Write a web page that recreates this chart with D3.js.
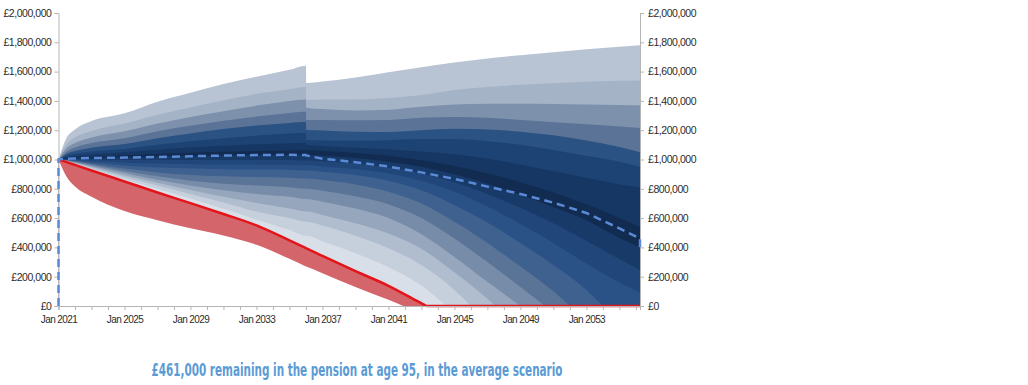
<!DOCTYPE html>
<html>
<head>
<meta charset="utf-8">
<script src="https://cdn.jsdelivr.net/npm/d3@7"></script>
<style>
  body { margin: 0; background: #fff; }
  svg { display: block; }
  text { font-family: "Liberation Sans", Arial, sans-serif; }
</style>
</head>
<body>
<div class="wrapper"></div>
<script>
const width = 1028;
const height = 385;

// time grid (years), values in £ thousands
const years = [2021, 2021.5, 2022, 2023, 2025, 2027, 2029, 2031, 2033, 2035, 2036, 2036.02, 2037, 2039, 2041, 2043, 2045, 2047, 2049, 2051, 2053, 2055, 2056.25];

const redLine  = [1000, 982, 963, 925, 850, 775, 702, 628, 550, 448, 395, 394, 342, 238, 138, 18, 0, 0, 0, 0, 0, 0, 0];
const redFloor = [1000, 880, 815, 745, 648, 585, 530, 482, 418, 322, 270, 269, 224, 130, 42, 0, 0, 0, 0, 0, 0, 0, 0];

// fan edges, lowest (b1) to highest (b18)
const b1  = [1000, 985, 968, 934, 865, 800, 733, 663, 590, 518, 480, 480, 442, 360, 265, 140, 0, 0, 0, 0, 0, 0, 0];
const b2  = [1000, 987, 972, 942, 880, 822, 765, 707, 645, 600, 575, 575, 550, 480, 395, 280, 110, 0, 0, 0, 0, 0, 0];
const b3  = [1000, 989, 976, 949, 893, 842, 792, 745, 703, 665, 645, 645, 622, 565, 495, 390, 230, 50, 0, 0, 0, 0, 0];
const b4  = [1000, 991, 980, 956, 907, 862, 822, 790, 765, 745, 730, 730, 712, 665, 600, 490, 335, 165, 0, 0, 0, 0, 0];
const b5  = [1000, 993, 984, 963, 922, 885, 855, 835, 822, 810, 800, 800, 787, 750, 695, 600, 460, 300, 130, 0, 0, 0, 0];
const b6  = [1000, 995, 988, 970, 938, 912, 895, 885, 880, 876, 870, 870, 860, 830, 780, 700, 575, 430, 270, 100, 0, 0, 0];
const b7  = [1000, 997, 992, 978, 958, 945, 938, 934, 932, 930, 925, 925, 917, 895, 855, 790, 690, 570, 430, 280, 110, 0, 0];
const b8  = [1000, 999, 996, 988, 978, 972, 968, 966, 965, 963, 960, 960, 953, 935, 905, 855, 780, 680, 560, 430, 290, 160, 90];
const b9  = [1000, 1001, 1001, 1000, 998, 997, 997, 997, 997, 996, 994, 994, 988, 972, 945, 905, 845, 765, 670, 565, 445, 320, 245];
const b10 = [1000, 1004, 1006, 1010, 1015, 1020, 1025, 1028, 1030, 1031, 1030, 1030, 1025, 1010, 985, 950, 900, 835, 760, 675, 585, 465, 400];
const b11 = [1000, 1007, 1011, 1018, 1028, 1038, 1046, 1053, 1058, 1062, 1063, 1063, 1058, 1045, 1025, 995, 955, 905, 845, 775, 695, 600, 540];
const b12 = [1000, 1015, 1024, 1036, 1050, 1067, 1082, 1094, 1104, 1111, 1113, 1100, 1092, 1080, 1068, 1055, 1035, 1005, 965, 920, 875, 830, 810];
const b13 = [1000, 1027, 1040, 1055, 1072, 1100, 1125, 1145, 1163, 1177, 1183, 1133, 1130, 1128, 1132, 1140, 1140, 1125, 1100, 1065, 1025, 985, 950];
const b14 = [1000, 1040, 1058, 1080, 1105, 1145, 1178, 1208, 1232, 1250, 1258, 1201, 1198, 1190, 1188, 1200, 1210, 1205, 1190, 1165, 1130, 1085, 1050];
const b15 = [1000, 1055, 1082, 1112, 1145, 1193, 1230, 1265, 1293, 1318, 1326, 1270, 1270, 1268, 1270, 1285, 1290, 1285, 1270, 1255, 1240, 1225, 1215];
const b16 = [1000, 1078, 1112, 1150, 1192, 1245, 1290, 1330, 1368, 1400, 1410, 1352, 1345, 1335, 1340, 1360, 1375, 1380, 1380, 1378, 1375, 1372, 1370];
const b17 = [1000, 1105, 1150, 1195, 1245, 1305, 1355, 1405, 1448, 1480, 1495, 1406, 1410, 1410, 1420, 1440, 1475, 1495, 1510, 1520, 1530, 1537, 1540];
const b18 = [1000, 1150, 1205, 1262, 1315, 1395, 1455, 1515, 1565, 1612, 1640, 1522, 1532, 1560, 1595, 1630, 1662, 1690, 1712, 1732, 1752, 1770, 1780];

// year each edge reaches £0 (between grid points)
const zeroYears = {
  redLine: 2043.3, redFloor: 2041.9,
  b1: 2044.5, b2: 2046, b3: 2047.5, b4: 2049, b5: 2050.5, b6: 2052, b7: 2054
};

const average = [1000, 1005, 1007, 1010, 1013, 1017, 1022, 1027, 1030, 1032, 1030, 1028, 1005, 982, 952, 912, 868, 815, 765, 705, 635, 530, 461];
const averageStart = 0;
const averageTail = 380;

const bandColors = ["#d8dfe8", "#c6cfdc", "#b0bdce", "#95a6bd", "#778ca9", "#5a7497", "#3f6190", "#2b5286", "#21467a",
                    "#183a69", "#122b51", "#163763", "#1c4374", "#2a5283", "#5a7396", "#7d91ad", "#a5b3c7", "#b8c4d3"];

const yTicks = d3.range(0, 2001, 200);
const xLabelYears = [2021, 2025, 2029, 2033, 2037, 2041, 2045, 2049, 2053];
const title = "£461,000 remaining in the pension at age 95, in the average scenario";

const x = d3.scaleLinear().domain([2021, 2056.25]).range([58.5, 640]);
const y = d3.scaleLinear().domain([0, 2000]).range([306, 13]);

const svg = d3.select(".wrapper").append("svg")
  .attr("width", width).attr("height", height)
  .attr("viewBox", [0, 0, width, height]);

svg.append("clipPath").attr("id", "plot")
  .append("rect").attr("x", x(2021)).attr("y", y(2000) - 2)
  .attr("width", x(2056.25) - x(2021)).attr("height", y(0) - y(2000) + 4);

// points up to (and including) the year the edge reaches zero
const toPoints = (vals, zeroYear) => {
  const out = [];
  for (let i = 0; i < years.length; i++) {
    if (vals[i] > 0) {
      out.push([years[i], vals[i]]);
      continue;
    }
    out.push([zeroYear ?? years[i], 0]);
    break;
  }
  return out;
};

const areaUnder = d3.area().curve(d3.curveMonotoneX)
  .x((d) => x(d[0])).y0(y(0)).y1((d) => y(d[1]));
const curve = d3.line().curve(d3.curveMonotoneX).x((d) => x(d[0])).y((d) => y(d[1]));
const straight = d3.line().x((d) => x(d[0])).y((d) => y(d[1]));

const plot = svg.append("g").attr("clip-path", "url(#plot)");

// fan bands, painted from the top edge downwards
const edges = [
  [b1, zeroYears.b1], [b2, zeroYears.b2], [b3, zeroYears.b3], [b4, zeroYears.b4], [b5, zeroYears.b5],
  [b6, zeroYears.b6], [b7, zeroYears.b7], [b8, null], [b9, null], [b10, null], [b11, null], [b12, null],
  [b13, null], [b14, null], [b15, null], [b16, null], [b17, null], [b18, null]
];
for (let i = edges.length - 1; i >= 0; i--) {
  plot.append("path")
    .attr("d", areaUnder(toPoints(edges[i][0], edges[i][1])))
    .attr("fill", bandColors[i]);
}

// red (poor outcome) region
plot.append("path").attr("d", areaUnder(toPoints(redLine, zeroYears.redLine))).attr("fill", "#d4666b");
plot.append("path").attr("d", areaUnder(toPoints(redFloor, zeroYears.redFloor))).attr("fill", "#fff");

// axes
const axisColor = "#b5b5b5";
const money = (d) => "£" + d3.format(",")(d * 1000);
const yAxisL = svg.append("g").attr("transform", `translate(${x(2021)},0)`)
  .call(d3.axisLeft(y).tickValues(yTicks).tickSize(4).tickPadding(3).tickFormat(money));
const yAxisR = svg.append("g").attr("transform", `translate(${x(2056.25)},0)`)
  .call(d3.axisRight(y).tickValues(yTicks).tickSize(4).tickPadding(4).tickFormat(money));
const xAxis = svg.append("g").attr("transform", `translate(0,${y(0)})`)
  .call(d3.axisBottom(x).tickValues(d3.range(2021, 2057, 1)).tickSize(4).tickPadding(6)
    .tickFormat((d) => (xLabelYears.includes(d) ? "Jan " + d : "")));

for (const g of [yAxisL, yAxisR, xAxis]) {
  g.select(".domain").attr("stroke", axisColor).attr("stroke-width", 1);
  g.selectAll(".tick line").attr("stroke", axisColor);
  g.selectAll(".tick text").attr("fill", "#2b2b2b")
    .style("font-family", '"Liberation Sans", Arial, sans-serif');
}
yAxisL.selectAll(".tick text").attr("font-size", 10.5).attr("letter-spacing", -0.45);
yAxisR.selectAll(".tick text").attr("font-size", 10.5).attr("letter-spacing", -0.45);
xAxis.selectAll(".tick text").attr("font-size", 10).attr("letter-spacing", -0.6);

// red line and average (dashed) line
const redPts = toPoints(redLine, zeroYears.redLine);
plot.append("path")
  .attr("d", curve(redPts))
  .attr("fill", "none").attr("stroke", "#e3151b").attr("stroke-width", 2.5);
plot.append("path")
  .attr("d", straight([redPts[redPts.length - 1], [2056.25, 0]]))
  .attr("fill", "none").attr("stroke", "#e3151b").attr("stroke-width", 2.5);

const avgPts = [[2021, averageStart], ...years.map((t, i) => [t, average[i]]), [2056.25, averageTail]];
svg.append("path")
  .attr("d", straight(avgPts))
  .attr("fill", "none").attr("stroke", "#5b8ad6").attr("stroke-width", 2.5)
  .attr("stroke-dasharray", "8,5");

// caption
svg.append("text")
  .attr("x", 357).attr("y", 376)
  .attr("text-anchor", "middle")
  .attr("fill", "#5b9bd5")
  .attr("font-size", 17).attr("font-weight", "bold")
  .style("font-family", '"DejaVu Sans Condensed", "Liberation Sans", sans-serif')
  .attr("textLength", 411).attr("lengthAdjust", "spacingAndGlyphs")
  .text(title);
</script>
</body>
</html>
